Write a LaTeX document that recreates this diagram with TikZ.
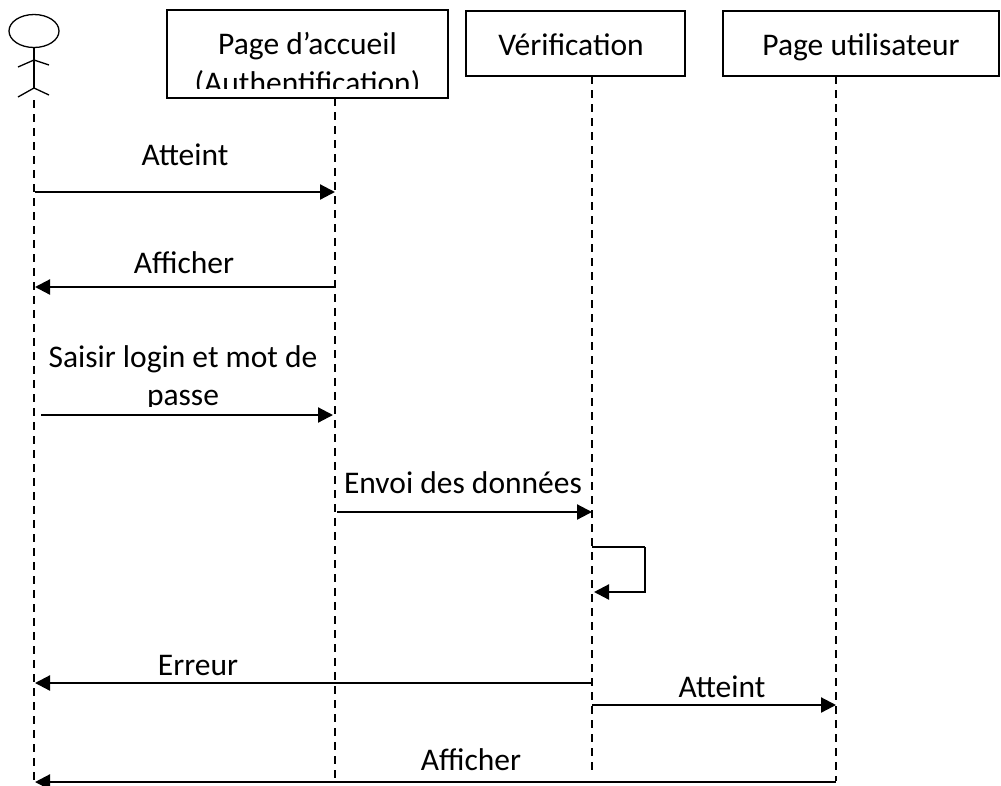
\documentclass[tikz,border=0pt]{standalone}
\usepackage{fontspec}
\setmainfont{Carlito}
\usetikzlibrary{arrows.meta,shapes.geometric}
\begin{document}
\begin{tikzpicture}[x=1pt,y=-1pt,
  lbl/.style={anchor=base,inner sep=0pt,font=\fontsize{31.5}{38}\selectfont},
  objbox/.style={draw,line width=1.3pt,inner sep=0pt},
  life/.style={line width=1.3pt,dash pattern=on 8pt off 6pt},
  msg/.style={line width=2.2pt,-{Triangle[length=15pt,width=15pt]}},
  stick/.style={line width=1.3pt}]
\useasboundingbox (0,0) rectangle (1001,785);
% actor
\node[draw,stick,ellipse,minimum width=50pt,minimum height=33pt,inner sep=0pt] (head) at (34,31) {};
\coordinate (hip) at (34,88);
\draw[stick] (head.south) -- (hip);
\draw[stick] (18,67) -- (34,60) -- (49,65);
\draw[stick] (18,97) -- (34,88) -- (49,95);
% object boxes
\node[objbox,minimum width=281pt,minimum height=88pt] (p1) at (307.5,54) {};
\node[objbox,minimum width=219pt,minimum height=65pt] (ver) at (575.5,43.5) {};
\node[objbox,minimum width=276pt,minimum height=65pt] (pu) at (861,43.5) {};
\begin{scope}
\clip (167,10) rectangle (448,88);
\node[lbl] (p1a) at (307.5,54) {Page d’accueil};
\node[lbl] (p1b) at (307.5,93) {(Authentification)};
\end{scope}
\node[lbl] (vert) at (571,55) {Vérification};
\node[lbl] (put) at (861,55) {Page utilisateur};
% lifelines
\coordinate (l0t) at (34,100); \coordinate (l0b) at (34,785);
\coordinate (l1t) at (335,98); \coordinate (l1b) at (335,778);
\coordinate (l2t) at (592,76); \coordinate (l2b) at (592,773);
\coordinate (l3t) at (836,76); \coordinate (l3b) at (836,781);
\draw[life] (l0t) -- (l0b);
\draw[life] (l1t) -- (l1b);
\draw[life] (l2t) -- (l2b);
\draw[life] (l3t) -- (l3b);
% messages
\coordinate (m1s) at (35,192); \coordinate (m1e) at (335,192);
\draw[msg] (m1s) -- (m1e);
\node[lbl] (t1) at (185,165) {Atteint};
\coordinate (m2s) at (335,287); \coordinate (m2e) at (35,287);
\draw[msg] (m2s) -- (m2e);
\node[lbl] (t2) at (184,273) {Afficher};
\node[lbl] (t3) at (183,367) {Saisir login et mot de};
\begin{scope}
\clip (100,370) rectangle (300,406);
\node[lbl] (t3b) at (183,405) {passe};
\end{scope}
\coordinate (m3s) at (41,415); \coordinate (m3e) at (333,415);
\draw[msg] (m3s) -- (m3e);
\coordinate (m4s) at (337,512); \coordinate (m4e) at (592,512);
\draw[msg] (m4s) -- (m4e);
\node[lbl] (t4) at (463,493) {Envoi des données};
\coordinate (s1) at (592,547); \coordinate (s2) at (645,547);
\coordinate (s3) at (645,592); \coordinate (s4) at (594,592);
\draw[line width=1.2pt] (s1) -- (s2);
\draw[msg] (s2) -- (s3) -- (s4);
\coordinate (m5s) at (592,683); \coordinate (m5e) at (35,683);
\draw[msg] (m5s) -- (m5e);
\node[lbl] (t5) at (198,675) {Erreur};
\coordinate (m6s) at (592,705); \coordinate (m6e) at (836,705);
\draw[msg] (m6s) -- (m6e);
\node[lbl] (t6) at (722,697) {Atteint};
\coordinate (m7s) at (836,782); \coordinate (m7e) at (35,782);
\draw[msg] (m7s) -- (m7e);
\node[lbl] (t7) at (471,770) {Afficher};
\end{tikzpicture}
\end{document}
